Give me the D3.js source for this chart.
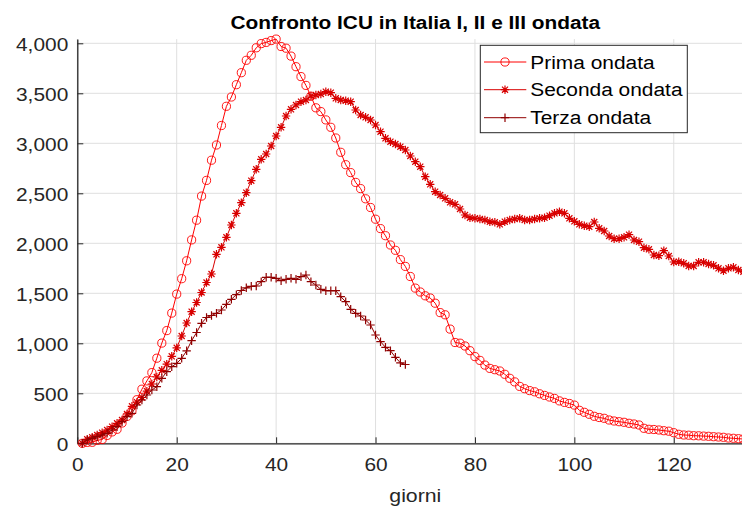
<!DOCTYPE html>
<html lang="it">
<head>
    <meta charset="UTF-8">
    <title>Confronto ICU in Italia I, II e III ondata</title>
    <script src="https://cdn.jsdelivr.net/npm/d3@7"></script>
    <style>
        body { margin: 0; background: #fff; }
        text { font-family: "Liberation Sans", Arial, Helvetica, sans-serif; }
    </style>
</head>
<body>
<script>
    // prima ondata (giorno 1..134)
    var prima = [0, 9, 10, 30, 38, 79, 114, 140, 203, 269, 325, 436, 541, 624, 707, 851, 1002, 1127, 1302, 1492,
        1646, 1825, 2034, 2231, 2472, 2629, 2831, 2983, 3178, 3370, 3463, 3586, 3706, 3830, 3880, 3955, 3997, 4009, 4027, 4042,
        3968, 3951, 3872, 3766, 3667, 3579, 3471, 3355, 3317, 3234, 3160, 3053, 2910, 2786, 2707, 2609, 2547, 2445, 2358, 2241,
        2147, 2076, 1983, 1930, 1837, 1769, 1668, 1552, 1513, 1475, 1453, 1401, 1307, 1285, 1142, 1008, 1001, 973, 926, 867,
        829, 782, 749, 736, 723, 690, 650, 614, 569, 546, 527, 515, 495, 479, 463, 449,
        424, 409, 398, 382, 330, 310, 290, 270, 258, 250, 233, 223, 216, 210, 200, 193, 183, 150, 140, 138,
        133, 126, 121, 106, 90, 83, 81, 76, 75, 72, 70, 66, 63, 60, 53, 50, 46, 43];
    // seconda ondata
    var seconda = [0, 40, 60, 83, 106, 133, 166, 200, 233, 293, 370, 411, 458, 521, 593, 663, 730, 792, 870, 955,
        1073, 1203, 1316, 1408, 1508, 1608, 1693, 1890,
        1960, 2060, 2183, 2300, 2406, 2506, 2626, 2740, 2840, 2893, 2973, 3073, 3160, 3273, 3340, 3383, 3416, 3433,
        3473, 3483, 3493, 3516, 3506, 3450, 3433, 3426, 3416, 3333, 3283, 3260, 3233, 3183, 3116, 3050, 3016, 2993,
        2966, 2933, 2873, 2816, 2766,
        2666, 2590, 2516, 2483, 2450, 2410, 2390, 2343, 2283, 2256, 2250, 2243, 2233, 2216, 2210, 2190, 2216, 2233,
        2243, 2250, 2233, 2233, 2243, 2250, 2256, 2276, 2300, 2316, 2300, 2250, 2220, 2190,
        2176, 2166, 2213, 2150, 2123, 2073, 2046, 2046, 2060, 2086, 2033, 2016, 1956, 1940, 1883, 1876, 1926, 1873,
        1813, 1816, 1800, 1773, 1773, 1810, 1810, 1793, 1780, 1750, 1726, 1750, 1760, 1733, 1716];
    // terza ondata
    var terza = [0, 33, 50, 66, 83, 100, 133, 166, 216, 266, 300, 383, 433, 483, 533, 566, 650, 716, 766, 800,
        850, 925, 1026, 1108, 1200, 1258, 1278, 1300, 1333, 1390, 1440, 1487, 1528, 1555, 1570, 1573, 1616, 1660,
        1660, 1650, 1626, 1640, 1650, 1640, 1666, 1683, 1616, 1583, 1540, 1526, 1526, 1526, 1466, 1416, 1340, 1300,
        1273, 1233, 1183, 1083, 1016, 960, 926, 860, 805, 788];

    var xTicks = [0, 20, 40, 60, 80, 100, 120];
    var yTicks = [0, 500, 1000, 1500, 2000, 2500, 3000, 3500, 4000];

    var width = 742, height = 506;
    var mLeft = 77.3, mRight = 753.3, mTop = 39.1, mBottom = 443.3;
    var ink = "#262626";
    var fs = "18.5px";
    var sx = 1.13; // il testo dell'originale e' un po' piu' largo

    var series = [
        {name: "Prima ondata", values: prima, color: "#ff0000", marker: "o"},
        {name: "Seconda ondata", values: seconda, color: "#d80000", marker: "*"},
        {name: "Terza ondata", values: terza, color: "#900000", marker: "+"}
    ];

    var svg = d3.select("body").append("svg")
        .attr("width", width)
        .attr("height", height);

    var x = d3.scaleLinear().domain([0, 136]).range([mLeft, mRight]);
    var y = d3.scaleLinear().domain([0, 4042]).range([mBottom, mTop]);

    // griglia
    var grid = svg.append("g");
    grid.selectAll(".gx").data(xTicks).enter().append("line")
        .attr("x1", function (d) { return x(d); })
        .attr("x2", function (d) { return x(d); })
        .attr("y1", mTop).attr("y2", mBottom)
        .attr("stroke", "#dfdfdf").attr("stroke-width", 1);
    grid.selectAll(".gy").data(yTicks).enter().append("line")
        .attr("x1", mLeft).attr("x2", mRight)
        .attr("y1", function (d) { return y(d); })
        .attr("y2", function (d) { return y(d); })
        .attr("stroke", "#dfdfdf").attr("stroke-width", 1);

    // assi
    var xAxis = d3.axisBottom(x).tickValues(xTicks).tickSizeInner(-6).tickSizeOuter(0).tickPadding(15);
    var yAxis = d3.axisLeft(y).tickValues(yTicks).tickFormat(d3.format(",")).tickSizeInner(-6).tickSizeOuter(0).tickPadding(8);

    var gx = svg.append("g").attr("transform", "translate(0," + mBottom + ")").call(xAxis);
    var gy = svg.append("g").attr("transform", "translate(" + mLeft + ",0)").call(yAxis);
    [gx, gy].forEach(function (g) {
        g.select(".domain").attr("stroke", ink).attr("stroke-width", 1.3);
        g.selectAll(".tick line").attr("stroke", ink);
        g.selectAll(".tick text").attr("fill", ink).style("font-size", fs)
            .style("font-family", "'Liberation Sans', Arial, sans-serif")
            .attr("transform", "scale(" + sx + ",1)");
    });
    gy.selectAll(".tick text").attr("dy", "0.4em");

    // curve
    var line = d3.line()
        .x(function (d, i) { return x(i + 1); })
        .y(function (d) { return y(d); });

    function markerPath(type) {
        var r = 4.2;
        if (type === "+") return "M" + (-r) + ",0H" + r + "M0," + (-r) + "V" + r;
        var a = r * 0.72;
        return "M" + (-r) + ",0H" + r + "M0," + (-r) + "V" + r +
            "M" + (-a) + "," + (-a) + "L" + a + "," + a + "M" + (-a) + "," + a + "L" + a + "," + (-a);
    }

    function drawMarkers(g, s, pts) {
        if (s.marker === "o") {
            g.selectAll("circle").data(pts).enter().append("circle")
                .attr("cx", function (d) { return d[0]; })
                .attr("cy", function (d) { return d[1]; })
                .attr("r", 4.1)
                .attr("fill", "none").attr("stroke", s.color).attr("stroke-width", 0.9);
        } else {
            g.selectAll("path.m").data(pts).enter().append("path")
                .attr("class", "m")
                .attr("transform", function (d) { return "translate(" + d[0] + "," + d[1] + ")"; })
                .attr("d", markerPath(s.marker))
                .attr("fill", "none").attr("stroke", s.color).attr("stroke-width", 1.2);
        }
    }

    series.forEach(function (s) {
        var g = svg.append("g");
        g.append("path")
            .attr("d", line(s.values))
            .attr("fill", "none")
            .attr("stroke", s.color)
            .attr("stroke-width", 1);
        drawMarkers(g, s, s.values.map(function (v, i) { return [x(i + 1), y(v)]; }));
    });

    // testo allargato in orizzontale
    function wideText(px, py, str, size, stretch) {
        return svg.append("text")
            .attr("transform", "translate(" + px + "," + py + ") scale(" + stretch + ",1)")
            .style("font-size", size)
            .text(str);
    }

    // titolo e etichetta asse
    wideText(415.3, 29.3, "Confronto ICU in Italia I, II e III ondata", fs, 1.128)
        .attr("text-anchor", "middle")
        .style("font-weight", "bold")
        .attr("fill", "#000");

    wideText(415.3, 501.7, "giorni", fs, 1.15)
        .attr("text-anchor", "middle")
        .attr("fill", ink);

    // legenda
    svg.append("rect")
        .attr("x", 480.3).attr("y", 45.3)
        .attr("width", 207).attr("height", 87.4)
        .attr("fill", "#fff").attr("stroke", ink).attr("stroke-width", 1);
    var rows = [62, 89.7, 117.7];
    series.forEach(function (s, i) {
        var ry = rows[i];
        svg.append("line")
            .attr("x1", 484).attr("x2", 526.3)
            .attr("y1", ry).attr("y2", ry)
            .attr("stroke", s.color).attr("stroke-width", 1);
        drawMarkers(svg.append("g"), s, [[505, ry]]);
        wideText(530.3, ry + 6.7, s.name, "19px", 1.1)
            .attr("fill", "#000");
    });
</script>
</body>
</html>
